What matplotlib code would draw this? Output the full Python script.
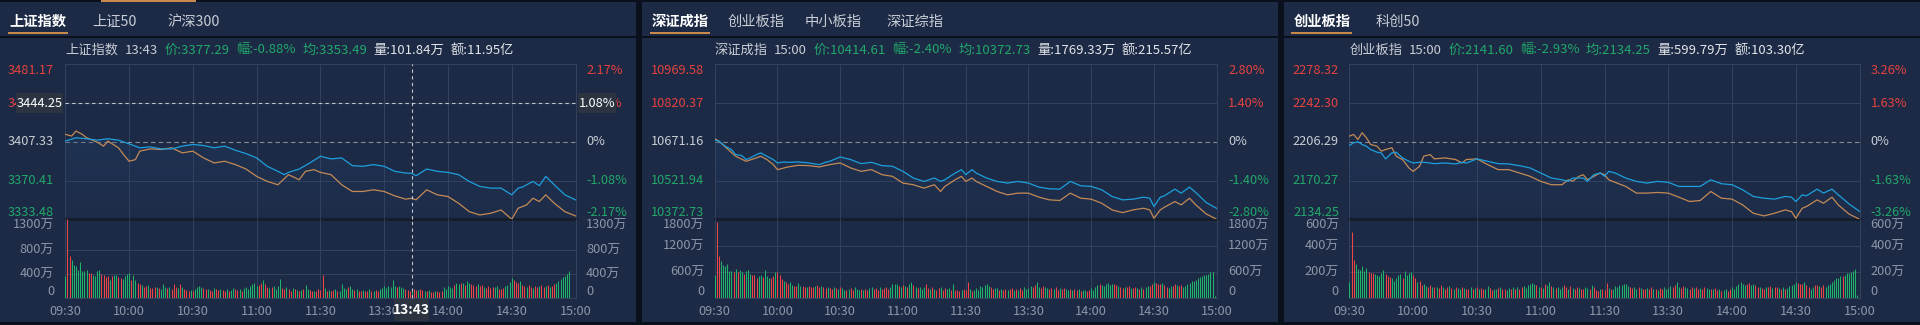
import numpy as np
import matplotlib.pyplot as plt
import matplotlib.transforms as mtransforms
from matplotlib.patches import Rectangle, Polygon

plt.rcParams['font.family'] = ['Noto Sans CJK SC', 'DejaVu Sans']

# ---------------- 上证指数 ----------------
sh_tabs = ['上证指数', '上证50', '沪深300']
sh_quote = ['上证指数', '13:43', '价:3377.29', '幅:-0.88%', '均:3353.49', '量:101.84万', '额:11.95亿']
sh_levels = [3481.17, 3444.25, 3407.33, 3370.41, 3333.48]
sh_pcts = ['2.17%', '1.08%', '0%', '-1.08%', '-2.17%']
sh_vol_ticks = [1300, 800, 400, 0]
sh_t_price = [0, 5, 10, 15, 20, 25, 30, 35, 40, 45, 50, 55, 60, 65, 70, 75, 80, 85, 90, 95,
              100, 103, 105, 110, 115, 118, 120, 125, 130, 135, 140, 145, 150, 155, 160, 163, 165, 170, 175, 180,
              185, 190, 195, 200, 205, 210, 213, 215, 220, 223, 226, 230, 235, 240]
sh_price = [3408.0, 3411.2, 3410.2, 3408.9, 3410.2, 3408.9, 3405.4, 3401.6, 3402.5, 3400.6,
            3400.6, 3403.2, 3404.8, 3403.8, 3401.6, 3403.2, 3399.3, 3396.1, 3392.0, 3384.0,
            3379.2, 3376.0, 3378.2, 3381.4, 3387.2, 3391.0, 3393.6, 3391.0, 3392.0, 3384.6,
            3384.0, 3385.6, 3384.0, 3379.2, 3377.6, 3377.29, 3375.0, 3381.4, 3379.2, 3378.2,
            3376.0, 3369.6, 3364.8, 3363.2, 3363.2, 3356.8, 3363.2, 3364.2, 3369.6, 3365.5,
            3374.4, 3366.4, 3356.8, 3352.0]
sh_t_avg = [0, 3, 5, 8, 10, 15, 18, 20, 25, 28, 30, 33, 35, 40, 45, 50, 55, 60, 65, 70,
            75, 80, 85, 90, 95, 100, 105, 110, 113, 117, 120, 125, 130, 135, 140, 145, 150, 155, 160, 163,
            165, 170, 175, 180, 185, 190, 195, 200, 205, 210, 213, 217, 220, 223, 226, 230, 235, 240]
sh_avg = [3414.4, 3412.8, 3417.6, 3414.4, 3411.2, 3407.0, 3403.2, 3408.0, 3401.6, 3393.6,
          3388.8, 3390.4, 3398.4, 3400.6, 3400.0, 3401.6, 3396.8, 3398.4, 3392.0, 3387.2,
          3388.8, 3385.6, 3381.4, 3374.4, 3369.6, 3366.4, 3376.0, 3371.2, 3379.2, 3380.8,
          3378.2, 3376.0, 3366.4, 3360.0, 3360.0, 3361.6, 3360.0, 3355.8, 3352.7, 3353.49,
          3352.0, 3361.6, 3356.8, 3355.2, 3348.8, 3340.8, 3337.6, 3339.2, 3342.4, 3333.5,
          3344.0, 3347.2, 3353.6, 3350.4, 3356.8, 3348.8, 3340.8, 3336.7]
# 成交量 (万手), one bar per minute
sh_vol = [370, 1330, 700, 630, 560, 530, 475, 605, 445, 457,
          475, 417, 417, 390, 360, 445, 460, 400, 390, 343,
          360, 300, 360, 390, 377, 343, 330, 314, 360, 400,
          417, 300, 377, 300, 245, 234, 217, 188, 200, 217,
          171, 160, 177, 188, 160, 143, 234, 188, 160, 177,
          143, 234, 188, 160, 234, 188, 143, 131, 120, 131,
          114, 150, 175, 190, 185, 160, 140, 150, 130, 120,
          165, 140, 125, 150, 135, 110, 145, 120, 135, 160,
          150, 125, 140, 115, 160, 175, 150, 200, 230, 245,
          190, 215, 245, 300, 230, 180, 160, 175, 205, 150,
          190, 310, 170, 150, 180, 140, 120, 160, 145, 135,
          110, 125, 145, 220, 150, 130, 115, 105, 120, 140,
          130, 380, 170, 120, 135, 110, 125, 140, 105, 115,
          225, 165, 140, 180, 195, 150, 130, 140, 120, 110,
          130, 105, 120, 140, 115, 105, 125, 110, 150, 170,
          190, 160, 200, 175, 300, 195, 185, 205, 175, 160,
          150, 135, 120, 115, 140, 125, 130, 140, 125, 115,
          110, 125, 100, 95, 110, 105, 90, 115, 180, 155,
          190, 175, 165, 210, 245, 230, 250, 240, 220, 275,
          245, 230, 215, 200, 225, 190, 210, 180, 170, 195,
          160, 175, 185, 200, 150, 140, 170, 190, 215, 260,
          325, 305, 260, 245, 280, 220, 190, 175, 210, 185,
          160, 205, 175, 200, 215, 185, 195, 220, 180, 205,
          230, 255, 280, 310, 345, 360, 395, 457, 0, 0,
          0]
sh_dir = ('grrggggggg' 'grrggggrrr' 'rgrggrrggg' 'grggrrgrrg' 'rrrgrgggrg'
          'rrrgrgrrrg' 'rggggrrgrr' 'grrgrrgrgg' 'rrgrgggggg' 'grrgrrgrgg'
          'ggrrgrrgrg' 'rgrggrrgrr' 'rrgrgrrgrg' 'gggrggrgrr' 'grrgrgrrgg'
          'ggggggrggg' 'rrrgrrgrrg' 'rgrrgrrrgg' 'gggrggrgrg' 'grrrgrrgrr'
          'rrggrrrggg' 'grrrgrrgrr' 'grrgrrgrgr' 'rggggggggg' 'g')
sh_cross = (163, 3444.25, '1.08%', '13:43')

# ---------------- 深证成指 ----------------
sz_tabs = ['深证成指', '创业板指', '中小板指', '深证综指']
sz_quote = ['深证成指', '15:00', '价:10414.61', '幅:-2.40%', '均:10372.73', '量:1769.33万', '额:215.57亿']
sz_levels = [10969.58, 10820.37, 10671.16, 10521.94, 10372.73]
sz_pcts = ['2.80%', '1.40%', '0%', '-1.40%', '-2.80%']
sz_vol_ticks = [1800, 1200, 600, 0]
sz_t_price = [0, 2, 5, 8, 10, 13, 15, 17, 20, 22, 25, 28, 30, 33, 35, 40, 45, 50, 53, 55,
              60, 65, 70, 75, 80, 85, 90, 95, 100, 105, 108, 110, 115, 118, 120, 123, 125, 130, 135, 140,
              145, 150, 155, 160, 165, 170, 175, 180, 185, 190, 195, 200, 205, 208, 210, 213, 215, 220, 223, 227,
              230, 235, 240]
sz_price = [10677.6, 10673.7, 10654.4, 10641.4, 10622.1, 10618.2, 10602.7, 10609.2, 10622.1, 10628.5,
            10615.6, 10602.7, 10589.8, 10593.6, 10592.3, 10593.6, 10589.8, 10583.3, 10592.3, 10596.2,
            10613.0, 10602.7, 10587.2, 10592.3, 10579.4, 10576.9, 10557.5, 10531.6, 10518.7, 10531.6,
            10518.7, 10525.2, 10551.0, 10563.9, 10544.6, 10563.9, 10551.0, 10531.6, 10518.7, 10512.2,
            10518.7, 10512.2, 10496.7, 10490.3, 10489.0, 10518.7, 10501.9, 10499.3, 10486.4, 10460.6,
            10447.6, 10450.2, 10458.0, 10454.1, 10421.8, 10458.0, 10463.2, 10489.0, 10473.5, 10496.7,
            10476.1, 10437.3, 10414.61]
sz_t_avg = [0, 2, 5, 10, 15, 20, 22, 25, 28, 30, 35, 40, 45, 50, 55, 60, 65, 70, 75, 80,
            85, 90, 95, 100, 105, 108, 110, 115, 118, 120, 123, 125, 130, 135, 140, 145, 150, 155, 160, 165,
            170, 175, 180, 185, 190, 195, 200, 205, 208, 210, 213, 215, 220, 223, 227, 230, 235, 240]
sz_avg = [10682.8, 10673.7, 10651.8, 10615.6, 10596.2, 10609.2, 10615.6, 10602.7, 10583.3, 10563.9,
          10574.3, 10580.7, 10579.4, 10574.3, 10583.3, 10589.8, 10570.4, 10557.5, 10563.9, 10544.6,
          10538.1, 10512.2, 10505.8, 10492.9, 10505.8, 10479.9, 10499.3, 10525.2, 10538.1, 10518.7,
          10531.6, 10518.7, 10499.3, 10479.9, 10467.0, 10473.5, 10473.5, 10458.0, 10447.6, 10445.1,
          10473.5, 10454.1, 10450.2, 10434.7, 10408.9, 10398.5, 10408.9, 10415.3, 10408.9, 10376.6,
          10408.9, 10419.2, 10441.2, 10428.3, 10454.1, 10428.3, 10393.4, 10372.73]
sz_vol = [536, 1760, 970, 852, 773, 734, 797, 615, 620, 600,
          660, 600, 640, 590, 560, 620, 650, 560, 520, 540,
          470, 500, 540, 480, 655, 510, 450, 470, 500, 600,
          600, 520, 430, 400, 360, 330, 370, 300, 280, 270,
          340, 280, 270, 260, 250, 280, 260, 240, 270, 300,
          250, 280, 260, 220, 240, 230, 200, 260, 230, 210,
          250, 220, 190, 170, 200, 220, 180, 250, 200, 190,
          210, 180, 200, 190, 220, 250, 200, 230, 190, 260,
          200, 220, 240, 210, 260, 320, 330, 310, 280, 240,
          300, 280, 250, 320, 360, 300, 260, 220, 240, 200,
          250, 320, 230, 200, 260, 210, 190, 220, 250, 170,
          220, 200, 230, 180, 310, 190, 170, 150, 180, 200,
          170, 370, 200, 160, 180, 220, 190, 270, 250, 300,
          310, 280, 240, 200, 230, 220, 190, 210, 180, 200,
          190, 210, 230, 180, 200, 170, 220, 190, 250, 210,
          230, 270, 240, 290, 370, 260, 220, 280, 250, 230,
          200, 220, 210, 250, 190, 220, 200, 230, 210, 180,
          200, 190, 210, 170, 200, 160, 180, 170, 150, 190,
          220, 190, 240, 300, 330, 290, 270, 310, 350, 300,
          330, 310, 290, 270, 250, 230, 260, 240, 280, 220,
          230, 250, 220, 210, 240, 200, 260, 270, 280, 330,
          370, 340, 310, 320, 350, 300, 250, 230, 270, 280,
          320, 290, 270, 300, 260, 280, 320, 350, 380, 400,
          420, 460, 480, 500, 520, 540, 560, 590, 600, 40,
          1840]
sz_dir = ('grrggggggr' 'grggrgggrr' 'rggrgggrrg' 'rrrgrrggrr' 'ggrrgrrrgr'
          'rgrrgrrgrg' 'rggrgrrggg' 'rgrrggrrrg' 'rrrrggggrg' 'rgrggrgrgg'
          'grrgrgrrgr' 'rggrgrrrgr' 'rrgrgggggg' 'ggrrggrgrr' 'grrgrgrrgg'
          'ggrrggrrgg' 'rrgrrgrrgg' 'rgrrgrggrr' 'ggggrggggg' 'grrgrrgrrg'
          'rrgrgrggrr' 'grrrgrrggr' 'rgrrgggggg' 'gggggggggg' 'g')

# ---------------- 创业板指 ----------------
cy_tabs = ['创业板指', '科创50']
cy_quote = ['创业板指', '15:00', '价:2141.60', '幅:-2.93%', '均:2134.25', '量:599.79万', '额:103.30亿']
cy_levels = [2278.32, 2242.30, 2206.29, 2170.27, 2134.25]
cy_pcts = ['3.26%', '1.63%', '0%', '-1.63%', '-3.26%']
cy_vol_ticks = [600, 400, 200, 0]
cy_t_price = [0, 2, 4, 6, 8, 10, 13, 15, 17, 20, 22, 25, 28, 30, 33, 35, 40, 45, 50, 53,
              55, 60, 65, 70, 75, 80, 85, 90, 95, 100, 103, 105, 110, 112, 115, 118, 120, 122, 125, 130,
              135, 140, 145, 150, 155, 160, 165, 170, 175, 180, 185, 190, 195, 200, 205, 208, 210, 213, 215, 220,
              223, 227, 230, 235, 240]
cy_price = [2202.9, 2205.4, 2206.3, 2203.8, 2202.2, 2199.1, 2196.6, 2196.0, 2190.4, 2196.0,
            2196.6, 2191.3, 2188.2, 2186.6, 2187.3, 2187.3, 2186.0, 2186.6, 2185.7, 2187.3,
            2186.6, 2190.4, 2188.2, 2186.0, 2185.7, 2184.1, 2182.0, 2177.3, 2172.6, 2171.0,
            2169.5, 2172.6, 2172.6, 2169.5, 2175.7, 2177.3, 2174.2, 2178.8, 2177.3, 2172.6,
            2169.5, 2167.9, 2169.5, 2168.6, 2164.8, 2164.8, 2164.8, 2171.0, 2167.3, 2166.4,
            2161.7, 2155.5, 2153.9, 2153.0, 2155.5, 2154.8, 2150.8, 2157.0, 2156.1, 2162.3,
            2158.6, 2162.3, 2157.0, 2148.6, 2141.60]
cy_t_avg = [0, 2, 4, 6, 8, 10, 13, 15, 17, 20, 22, 25, 28, 30, 33, 35, 38, 40, 45, 50,
            53, 55, 60, 65, 70, 75, 80, 85, 90, 95, 100, 103, 105, 108, 110, 112, 115, 118, 120, 122,
            125, 130, 135, 140, 145, 150, 155, 160, 165, 170, 175, 180, 185, 190, 195, 200, 205, 208, 210, 213,
            215, 220, 223, 227, 230, 235, 240]
cy_avg = [2211.6, 2213.1, 2208.5, 2214.7, 2210.0, 2203.8, 2202.2, 2197.6, 2199.1, 2200.7,
          2192.9, 2189.8, 2182.0, 2178.8, 2183.5, 2192.9, 2194.4, 2190.4, 2191.3, 2189.8,
          2186.6, 2189.8, 2190.4, 2185.1, 2180.4, 2180.4, 2177.3, 2174.2, 2169.5, 2166.4,
          2166.4, 2171.0, 2169.5, 2174.2, 2175.7, 2171.0, 2174.2, 2177.3, 2175.7, 2171.0,
          2168.6, 2164.8, 2158.6, 2158.6, 2159.2, 2158.6, 2154.8, 2150.8, 2151.7, 2160.1,
          2153.9, 2153.0, 2147.6, 2139.9, 2137.4, 2139.9, 2143.0, 2141.4, 2135.2, 2144.5,
          2146.1, 2152.3, 2149.2, 2154.8, 2147.6, 2139.2, 2134.25]
cy_vol = [126, 508, 292, 266, 224, 213, 250, 205, 231, 200,
          192, 192, 187, 176, 170, 190, 218, 185, 170, 160,
          155, 130, 150, 176, 185, 150, 205, 176, 192, 197,
          180, 150, 120, 130, 100, 110, 90, 85, 95, 80,
          85, 80, 75, 95, 85, 70, 80, 90, 75, 70,
          80, 75, 70, 85, 75, 70, 65, 80, 70, 75,
          80, 70, 75, 65, 70, 90, 75, 60, 70, 65,
          75, 80, 70, 65, 60, 75, 70, 80, 65, 80,
          70, 85, 90, 75, 95, 110, 115, 105, 95, 85,
          80, 75, 110, 100, 120, 90, 85, 75, 80, 70,
          80, 95, 85, 70, 90, 75, 70, 80, 75, 65,
          70, 80, 75, 65, 100, 80, 60, 55, 65, 70,
          60, 115, 75, 65, 70, 90, 80, 95, 100, 110,
          105, 90, 80, 75, 85, 70, 80, 75, 65, 70,
          75, 70, 80, 65, 70, 60, 75, 65, 80, 70,
          75, 90, 80, 100, 120, 85, 75, 90, 80, 75,
          70, 80, 75, 85, 65, 75, 70, 80, 75, 65,
          70, 65, 75, 60, 70, 55, 60, 65, 55, 70,
          80, 70, 90, 110, 120, 105, 100, 110, 115, 100,
          105, 95, 85, 80, 75, 70, 85, 80, 90, 75,
          80, 85, 75, 70, 80, 65, 75, 90, 95, 110,
          120, 115, 105, 110, 120, 100, 80, 70, 85, 95,
          100, 90, 80, 95, 85, 100, 110, 125, 140, 150,
          155, 165, 170, 180, 190, 195, 200, 210, 220, 20,
          640]
cy_dir = ('grrggggggr' 'rrgggggrrr' 'gggggrgggg' 'rrgrrggrrg' 'rgrrgrrgrg'
          'rggrgrrgrg' 'rgrrggrrgg' 'rgrrggrgrg' 'rrggggggrg' 'rgrggrgrgg'
          'grrgrgrrgr' 'rggrgrrrgr' 'rrgrgggggg' 'ggrrggrgrr' 'grrgrgrrgg'
          'ggrrggrrgg' 'rrgrrgrrgg' 'rgrrgrggrr' 'gggggggrrg' 'grrgrrgrrg'
          'rrgrgrgggg' 'grrrgrrggr' 'rgrrgggggg' 'ggrggggggg' 'g')

time_ticks = [0, 30, 60, 90, 120, 150, 180, 210, 240]
time_labels = ['09:30', '10:00', '10:30', '11:00', '11:30', '13:30', '14:00', '14:30', '15:00']

# colours
BG = '#0b111c'
PANEL = '#1c2a45'
GRID = '#34435d'
RED = '#e5423f'
GREEN = '#21a86b'
BAR_RED = '#ee4545'
BAR_GREEN = '#1fb36c'
LIGHT = '#c9cdd5'
GREY = '#8d96a8'
BLUE = '#1d9fdc'
ORANGE = '#c48a56'
ACCENT = '#c8894b'

W, H = 1920, 325
fig = plt.figure(figsize=(W / 100, H / 100), dpi=100)
fig.patch.set_facecolor(BG)


def fx(x):
    return x / W


def fy(y):
    return 1 - y / H


def rect(x0, y0, x1, y1, color, z=-5):
    fig.add_artist(Rectangle((fx(x0), fy(y1)), (x1 - x0) / W, (y1 - y0) / H,
                             transform=fig.transFigure, facecolor=color, lw=0, zorder=z))


def axes_px(x0, y0, x1, y1):
    ax = fig.add_axes([fx(x0), fy(y1), (x1 - x0) / W, (y1 - y0) / H])
    ax.set_facecolor('none')
    ax.axis('off')
    return ax


PRICE_TOP, PRICE_BOT, VOL_BOT = 64.3, 219.3, 297.7


def draw_panel(p):
    x0, x1 = p['span']
    pl, pr = p['plot']
    rect(x0, 2, x1, 322, PANEL)
    rect(x0, 36, x1, 38, BG, z=-4)

    # tabs
    for i, (name, tx) in enumerate(zip(p['tabs'], p['tab_x'])):
        fig.text(fx(tx), fy(21.7), name, fontsize=10.3, va='center', ha='left',
                 color='white' if i == 0 else LIGHT, fontweight='bold' if i == 0 else 'normal')
    ux0, ux1 = p['underline']
    rect(ux0, 32.3, ux1, 34.3, ACCENT, z=-3)

    # quote line
    r = fig.canvas.get_renderer()
    cols = [LIGHT, LIGHT, GREEN, GREEN, GREEN, '#e2e5ea', '#e2e5ea']
    x = pl
    for s, c in zip(p['quote'], cols):
        t = fig.text(fx(x), fy(50), s, fontsize=9.5, va='center', ha='left', color=c)
        x = t.get_window_extent(r).x1 + 6.5

    lv = p['levels']
    axp = axes_px(pl, PRICE_TOP, pr, PRICE_BOT)
    axv = axes_px(pl, PRICE_BOT, pr, VOL_BOT)

    # gradient under the price line
    tp, pp = p['t_price'], p['price']
    poly = Polygon([(tp[0], lv[-1])] + list(zip(tp, pp)) + [(tp[-1], lv[-1])],
                   closed=True, facecolor='none', edgecolor='none')
    axp.add_patch(poly)
    grad = np.zeros((100, 1, 4))
    grad[..., 0], grad[..., 1], grad[..., 2] = 0.15, 0.28, 0.46
    grad[:, 0, 3] = np.linspace(0.45, 0.08, 100)
    im = axp.imshow(grad, extent=[0, 240, lv[-1], lv[0]], aspect='auto', origin='upper', zorder=1)
    im.set_clip_path(poly)

    axp.set_xlim(0, 240)
    axp.set_ylim(lv[-1], lv[0])
    axv.set_xlim(0, 240)
    axv.set_ylim(0, p['vtop'])

    # grid
    for ax in (axp, axv):
        for m in time_ticks:
            ax.axvline(m, color=GRID, lw=0.7, zorder=0.5, clip_on=False)
    axp.axhline(lv[0], color=GRID, lw=0.7, zorder=0.5, clip_on=False)
    axp.axhline(lv[1], color=GRID, lw=0.7, zorder=0.5)
    axp.axhline(lv[3], color=GRID, lw=0.7, zorder=0.5)
    axp.axhline(lv[2], color='#868b95', lw=0.8, ls=(0, (4, 3)), zorder=0.6)
    axp.axhline(lv[-1], color='#161c27', lw=1.8, zorder=1.5, clip_on=False)
    for v in p['vticks'][1:-1]:
        axv.axhline(v, color=GRID, lw=0.7, zorder=0.5)
    axv.axhline(0, color=GRID, lw=0.7, zorder=0.5, clip_on=False)

    axp.plot(p['t_avg'], p['avg'], color=ORANGE, lw=0.9, zorder=2)
    axp.plot(tp, pp, color=BLUE, lw=0.9, zorder=2.1)

    vol = np.array(p['vol'])
    mins = np.arange(len(vol))
    bar_cols = [BAR_RED if d == 'r' else BAR_GREEN for d in p['dir']]
    axv.vlines(mins, 0, vol, colors=bar_cols, lw=0.75, zorder=2)

    # price / percent labels
    tr = mtransforms.blended_transform_factory(fig.transFigure, axp.transData)
    for i, (v, pc) in enumerate(zip(lv, p['pcts'])):
        c = RED if i < 2 else (LIGHT if i == 2 else GREEN)
        va = 'top' if i == 0 else ('bottom' if i == 4 else 'center')
        axp.text(fx(p['lab_r']), v, f'{v:.2f}', transform=tr, ha='right', va=va, color=c, fontsize=9.2)
        axp.text(fx(p['lab_l']), v, pc, transform=tr, ha='left', va=va, color=c, fontsize=9.2)

    trv = mtransforms.blended_transform_factory(fig.transFigure, axv.transData)
    vt = p['vticks']
    for i, v in enumerate(vt):
        s = '0' if v == 0 else f'{v}万'
        va = 'top' if i == 0 else ('bottom' if i == len(vt) - 1 else 'center')
        y = p['vtop'] if i == 0 else v
        axv.text(fx(p['lab_r']), y, s, transform=trv, ha='right', va=va, color=GREY, fontsize=9.2)
        axv.text(fx(p['lab_l']), y, s, transform=trv, ha='left', va=va, color=GREY, fontsize=9.2)

    trx = mtransforms.blended_transform_factory(axv.transData, fig.transFigure)
    for m, s in zip(time_ticks, time_labels):
        axv.text(m, fy(311.7), s, transform=trx, ha='center', va='center', color=GREY, fontsize=9.2)

    # crosshair
    if p.get('cross'):
        cm, cy, cpct, ctime = p['cross']
        for ax in (axp, axv):
            ax.axvline(cm, color='#c3c7ce', lw=0.8, ls=(0, (3, 3)), zorder=3, clip_on=False)
        axp.axhline(cy, color='#c3c7ce', lw=0.8, ls=(0, (3, 3)), zorder=3)
        ypx = PRICE_TOP + (lv[0] - cy) / (lv[0] - lv[-1]) * (PRICE_BOT - PRICE_TOP)
        xpx = pl + cm / 240 * (pr - pl)
        for bx0, bx1, s in ((15.5, 63, f'{cy:.2f}'), (578, 616, cpct)):
            rect(x0 + bx0, ypx - 10, x0 + bx1, ypx + 10, '#2c3442', z=5)
            fig.text(fx(x0 + (bx0 + bx1) / 2), fy(ypx), s, ha='center', va='center',
                     color='white', fontsize=9.2, zorder=6)
        rect(xpx - 17.5, 298.5, xpx + 17.5, 321, '#2c3442', z=5)
        fig.text(fx(xpx), fy(309.5), ctime, ha='center', va='center', color='white',
                 fontsize=10, fontweight='bold', zorder=6)


panels = [
    dict(span=(0, 636), plot=(65.3, 575.5), lab_r=54, lab_l=586, tabs=sh_tabs, tab_x=[9, 92, 167],
         underline=(8, 68), quote=sh_quote, levels=sh_levels, pcts=sh_pcts, t_price=sh_t_price,
         price=sh_price, t_avg=sh_t_avg, avg=sh_avg, vol=sh_vol, dir=sh_dir, vtop=1323,
         vticks=sh_vol_ticks, cross=sh_cross),
    dict(span=(642, 1278), plot=(714.7, 1216.7), lab_r=704, lab_l=1228, tabs=sz_tabs,
         tab_x=[652, 728, 804.5, 886], underline=(650, 710), quote=sz_quote, levels=sz_levels,
         pcts=sz_pcts, t_price=sz_t_price, price=sz_price, t_avg=sz_t_avg, avg=sz_avg, vol=sz_vol,
         dir=sz_dir, vtop=1830, vticks=sz_vol_ticks),
    dict(span=(1284, 1920), plot=(1349.4, 1859.6), lab_r=1339, lab_l=1870.6, tabs=cy_tabs,
         tab_x=[1294, 1376], underline=(1291, 1352), quote=cy_quote, levels=cy_levels, pcts=cy_pcts,
         t_price=cy_t_price, price=cy_price, t_avg=cy_t_avg, avg=cy_avg, vol=cy_vol, dir=cy_dir,
         vtop=610, vticks=cy_vol_ticks),
]

for p in panels:
    draw_panel(p)

# active-tab marker on the strip above the first panel
rect(101, 0, 196, 2, ACCENT, z=-3)

fig.savefig('out.png', dpi=100, facecolor=fig.get_facecolor())
